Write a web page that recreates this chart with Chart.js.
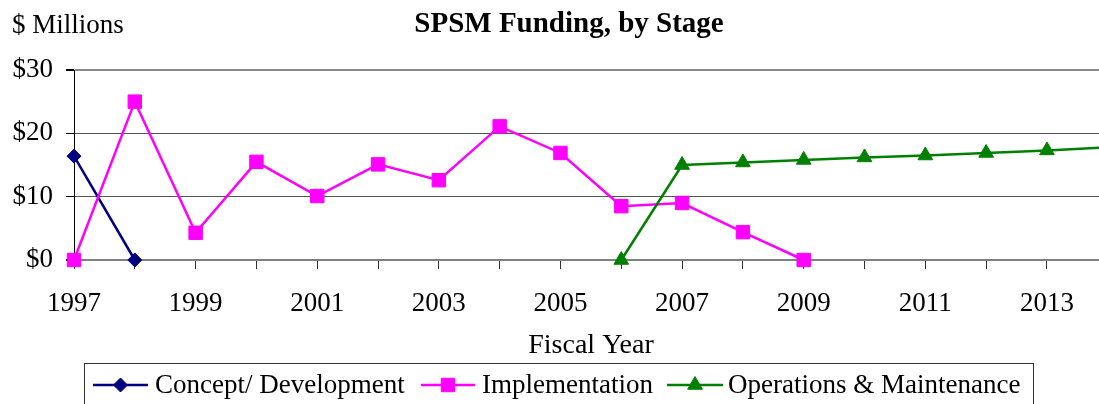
<!DOCTYPE html>
<html>
<head>
<meta charset="utf-8">
<script src="https://cdn.jsdelivr.net/npm/chart.js@4/dist/chart.umd.min.js"></script>
<style>
  html, body { margin: 0; padding: 0; background: #fff; overflow: hidden; }
  #wrap { width: 1099px; height: 404px; }
</style>
</head>
<body>
<div id="wrap"><canvas id="fundChart" width="1099" height="404"></canvas></div>
<script>
// Fiscal years and funding by stage ($ millions)
const years = [1997, 1998, 1999, 2000, 2001, 2002, 2003, 2004, 2005,
               2006, 2007, 2008, 2009, 2010, 2011, 2012, 2013, 2014];
const concept = [16.4, 0, null, null, null, null, null, null, null,
                 null, null, null, null, null, null, null, null, null];
const implementation = [0, 25, 4.3, 15.5, 10.1, 15.1, 12.6, 21.1, 16.9,
                        8.5, 9.0, 4.4, 0, null, null, null, null, null];
const operations = [null, null, null, null, null, null, null, null, null,
                    0, 15.0, 15.4, 15.8, 16.2, 16.5, 16.9, 17.3, 17.8];
const yTicks = [0, 10, 20, 30];

const SERIF = "'Liberation Serif', 'Times New Roman', serif";
const NAVY = "#000080", PINK = "#ff00ff", GREEN = "#008000";

// the plot runs on past 2013, the last year shown is cut at the right edge
const X_MIN = 1997, X_MAX = 2013.856;

function points(vals) {
    return years.map((yr, i) => ({ x: yr, y: vals[i] })).filter(p => p.y !== null);
}

function series(label, vals, color, style, radius, order) {
    return {
        label,
        data: points(vals),
        borderColor: color,
        backgroundColor: color,
        borderWidth: 2.5,
        pointStyle: style,
        pointRadius: radius,
        pointHoverRadius: radius,
        pointBackgroundColor: color,
        pointBorderColor: color,
        pointBorderWidth: 1,
        tension: 0,
        clip: { left: 12, top: 12, right: 0, bottom: 12 },
        order
    };
}

const legendItems = [
    { label: "Concept/ Development", color: NAVY, style: "rectRot", radius: 7, x0: 93, x1: 148, tx: 155 },
    { label: "Implementation", color: PINK, style: "rect", radius: 9.5, x0: 421, x1: 475, tx: 482 },
    { label: "Operations & Maintenance", color: GREEN, style: "triangle", radius: 8.5, x0: 667, x1: 723, tx: 728 }
];

// titles, axis caption and the boxed legend
const decorations = {
    id: "decorations",
    afterDraw(chart) {
        const ctx = chart.ctx;
        ctx.save();
        ctx.fillStyle = "#000";
        ctx.textBaseline = "alphabetic";

        ctx.font = "bold 29px " + SERIF;
        ctx.textAlign = "center";
        ctx.fillText("SPSM Funding, by Stage", 569, 32);

        ctx.font = "27px " + SERIF;
        ctx.textAlign = "left";
        ctx.fillText("$ Millions", 12, 33);

        ctx.textAlign = "center";
        ctx.font = "28px " + SERIF;
        ctx.fillText("Fiscal Year", 591, 353);

        // legend box
        ctx.strokeStyle = "#333";
        ctx.lineWidth = 1;
        ctx.strokeRect(84.5, 363.5, 949, 60);

        ctx.font = "27px " + SERIF;
        ctx.textAlign = "left";
        legendItems.forEach(it => {
            ctx.strokeStyle = it.color;
            ctx.lineWidth = 2.5;
            ctx.beginPath();
            ctx.moveTo(it.x0, 385);
            ctx.lineTo(it.x1, 385);
            ctx.stroke();
            ctx.fillStyle = it.color;
            ctx.lineWidth = 1;
            Chart.helpers.drawPoint(ctx, {
                pointStyle: it.style, radius: it.radius, rotation: 0, borderWidth: 1
            }, (it.x0 + it.x1) / 2, 385);
            ctx.fillStyle = "#000";
            ctx.fillText(it.label, it.tx, 393);
        });
        ctx.restore();
    }
};

new Chart(document.getElementById("fundChart"), {
    type: "line",
    data: {
        datasets: [
            series("Concept/ Development", concept, NAVY, "rectRot", 7, 3),
            series("Implementation", implementation, PINK, "rect", 9.5, 2),
            series("Operations & Maintenance", operations, GREEN, "triangle", 8.5, 1)
        ]
    },
    options: {
        responsive: false,
        animation: false,
        devicePixelRatio: 1,
        layout: { autoPadding: false, padding: { top: 70, right: 0, left: 0, bottom: 0 } },
        plugins: {
            legend: { display: false },
            title: { display: false },
            tooltip: { enabled: false }
        },
        scales: {
            x: {
                type: "linear",
                min: X_MIN,
                max: X_MAX,
                afterFit(scale) {
                    scale.height = 144;
                    scale.paddingRight = 0;
                },
                border: { display: true, color: "#808080", width: 2 },
                grid: {
                    drawOnChartArea: false,
                    drawTicks: true,
                    tickLength: 9,
                    tickColor: "#333",
                    lineWidth: 1
                },
                ticks: {
                    stepSize: 1,
                    autoSkip: false,
                    includeBounds: false,
                    maxRotation: 0,
                    minRotation: 0,
                    padding: 19,
                    color: "#000",
                    font: { family: SERIF, size: 27 },
                    callback: v => (Number.isInteger(v) && v % 2 === 1) ? String(v) : ""
                }
            },
            y: {
                min: 0,
                max: 30,
                afterFit(scale) { scale.width = 74; },
                afterBuildTicks(scale) { scale.ticks = yTicks.map(v => ({ value: v })); },
                border: { display: true, color: "#000", width: 1 },
                grid: {
                    color: ctx => (ctx.tick && (ctx.tick.value === 0 || ctx.tick.value === 30)) ? "#888" : "#555",
                    lineWidth: ctx => (ctx.tick && (ctx.tick.value === 0 || ctx.tick.value === 30)) ? 2 : 1,
                    tickLength: 8,
                    tickColor: "#000"
                },
                ticks: {
                    padding: 13,
                    color: "#000",
                    font: { family: SERIF, size: 27 },
                    callback: v => "$" + v
                }
            }
        }
    },
    plugins: [decorations]
});
</script>
</body>
</html>
